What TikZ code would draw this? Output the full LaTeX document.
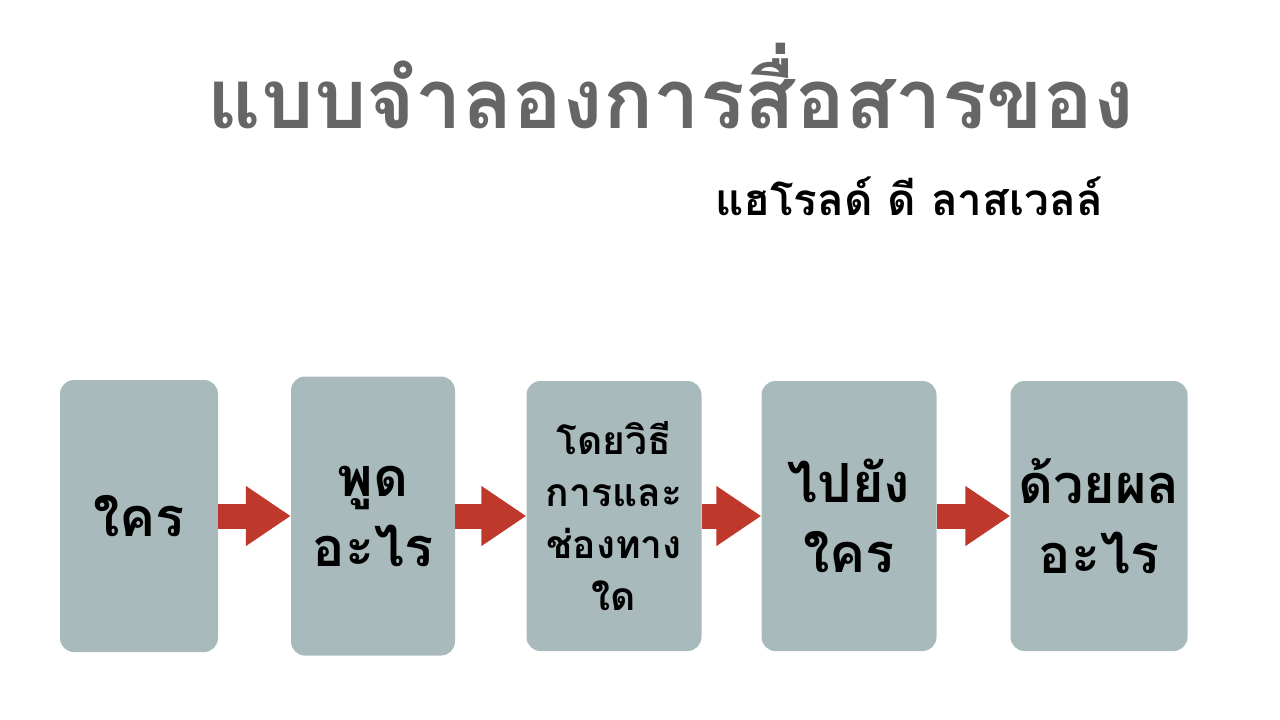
\documentclass[tikz,border=0pt]{standalone}
\usepackage{fontspec}
\newfontfamily\thaifont[Script=Thai]{Loma}
\usepackage{tikz}
\usetikzlibrary{arrows.meta,positioning}
\definecolor{boxgray}{RGB}{168,186,188}
\definecolor{titlegray}{RGB}{102,102,102}
\definecolor{arrowred}{RGB}{190,56,44}

\begin{document}
\begin{tikzpicture}[x=1pt,y=-1pt,
  stage/.style={rounded corners=14pt,fill=boxgray,inner sep=0pt,align=center,
    font=\thaifont\bfseries\fontsize{54}{70}\selectfont},
  flow/.style={arrowred,line width=25pt,-{Triangle[length=45pt,width=57pt]}}]
  \useasboundingbox[fill=white] (0,0) rectangle (1280,720);

  % Heading
  \node[font=\thaifont\bfseries\fontsize{83}{90}\selectfont,text=titlegray] (title) at (671,86)
    {แบบจำลองการสื่อสารของ};
  \node[font=\thaifont\bfseries\fontsize{44}{50}\selectfont] (author) at (909,196)
    {แฮโรลด์ ดี ลาสเวลล์};

  % Five stages
  \node[stage,minimum width=158pt,minimum height=272pt] (who) at (139,516) {ใคร};
  \node[stage,minimum width=164pt,minimum height=279pt] (what) at (373,516) {พูด\\อะไร};
  \node[stage,minimum width=175pt,minimum height=270pt,
    font=\thaifont\bfseries\fontsize{39}{52}\selectfont] (channel) at (614,516)
    {โดยวิธี\\การและ\\ช่องทาง\\ใด};
  \node[stage,minimum width=175pt,minimum height=270pt] (whom) at (849,516) {ไปยัง\\ใคร};
  \node[stage,minimum width=177pt,minimum height=270pt] (effect) at (1099,516) {ด้วยผล\\อะไร};

  \draw[flow] (who) -- (what);
  \draw[flow] (what) -- (channel);
  \draw[flow] (channel) -- (whom);
  \draw[flow] (whom) -- (effect);
\end{tikzpicture}
\end{document}
